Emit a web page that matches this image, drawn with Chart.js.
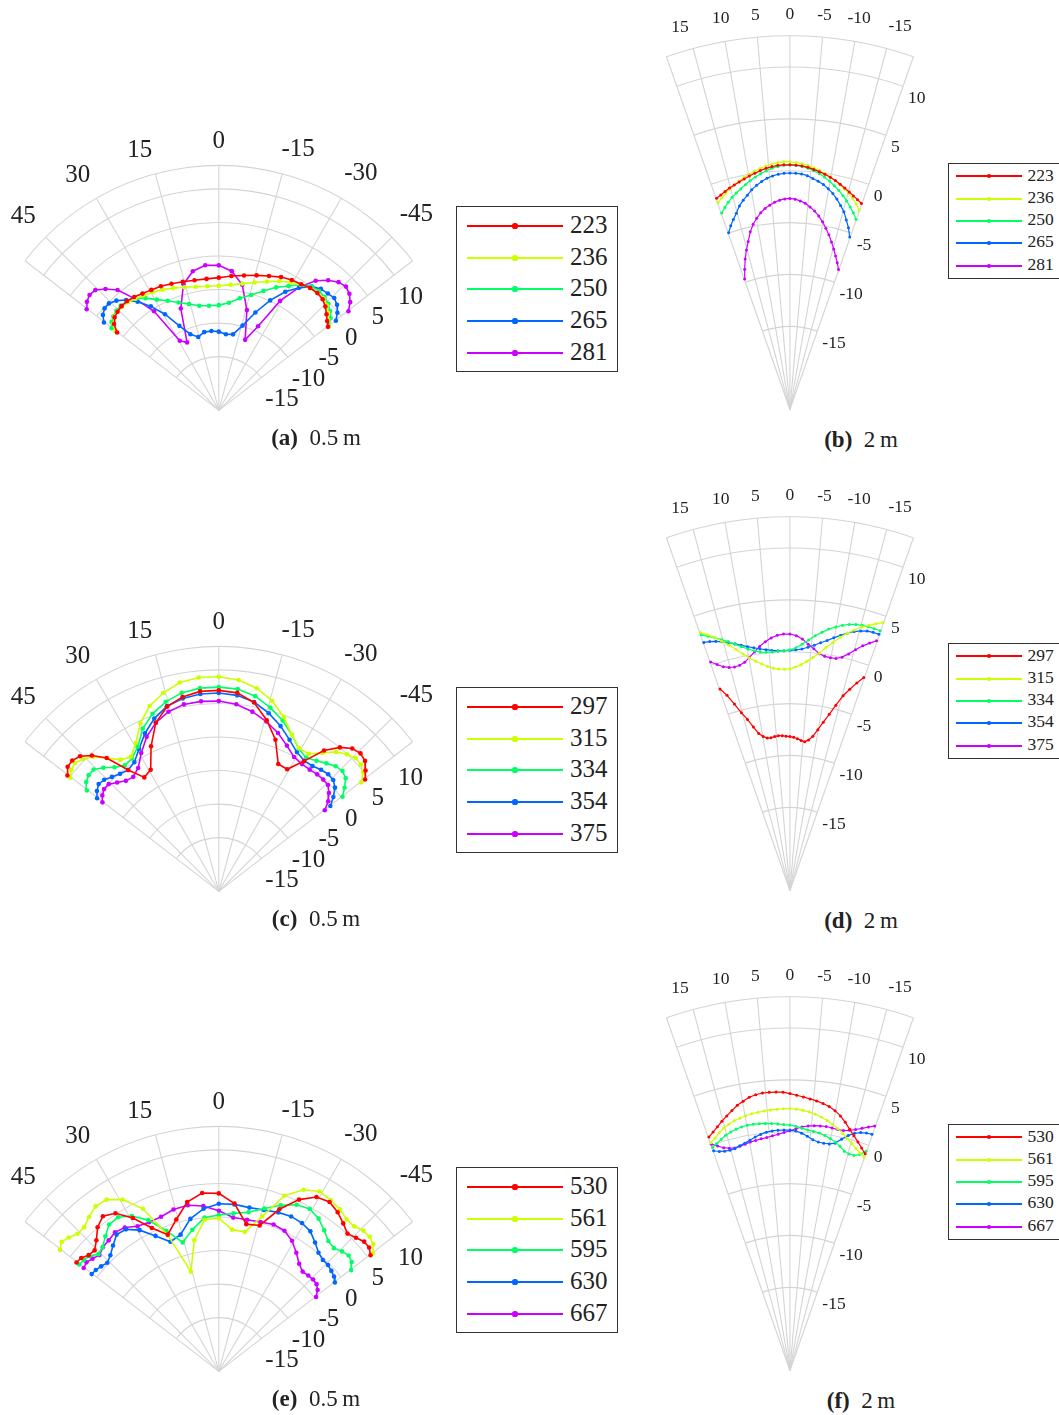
<!DOCTYPE html>
<html>
<head>
<meta charset="utf-8">
<script src="https://cdn.jsdelivr.net/npm/chart.js@4.4.1/dist/chart.umd.min.js"></script>
<style>
  body { margin: 0; background: #fff; width: 1059px; height: 1415px; position: relative; overflow: hidden;
         font-family: "Liberation Serif", "DejaVu Serif", serif; color: #222; }
  canvas { position: absolute; }
  .legend { position: absolute; border: 1px solid #333; background: #fff; box-sizing: border-box; }
  .legend .ln { position: absolute; }
  .legend .dot { position: absolute; border-radius: 50%; }
  .legend .lab { position: absolute; white-space: nowrap; }
  .cap { position: absolute; transform: translate(-50%, -50%); font-size: 23px; white-space: nowrap; }
</style>
</head>
<body>
<script>
// colours of the five series in every panel
const colors = ['#ff0000', '#ccff00', '#00ff66', '#0066ff', '#cc00ff'];

// radial axis (dB), centre of the fan is rMin
const rMin = -23;
const radialTicks = [-15, -10, -5, 0, 5, 10];

// measurement angles (deg), positive = left
const anglesNear = [52.35, 50.28, 48.01, 45.52, 42.80, 39.81, 36.53, 32.95, 29.05, 24.84, 20.32, 15.52, 10.49, 5.29, 0,
  -5.29, -10.49, -15.52, -20.32, -24.84, -29.05, -32.95, -36.53, -39.81, -42.80, -45.52, -48.01, -50.28, -52.35];
const anglesFar = [19.29, 18.00, 16.70, 15.38, 14.04, 12.68, 11.31, 9.93, 8.53, 7.13, 5.71, 4.29, 2.86, 1.43, 0,
  -1.43, -2.86, -4.29, -5.71, -7.13, -8.53, -9.93, -11.31, -12.68, -14.04, -15.38, -16.70, -18.00, -19.29];
const angleTicksNear = [45, 30, 15, 0, -15, -30, -45];
const angleTicksFar = [15, 10, 5, 0, -5, -10, -15];

// (a) 0.5 m
const labelsA = ['223', '236', '250', '265', '281'];
const a223 = [-3.85, -2.7, -2.1, -1.84, -1.65, -1.62, -1.8, -2.08, -2.28, -2.43, -2.7, -2.93, -3.1, -3.15, -3.05, -2.72, -2.37, -1.93, -1.47, -0.92, -0.58, -0.4, -0.12, -0.05, -0.22, -0.74, -1.4, -2.0, -2.45];
const a236 = [-3.5, -2.6, -2.0, -1.8, -1.75, -1.85, -2.1, -2.4, -2.7, -3.0, -3.4, -3.8, -4.1, -4.25, -4.27, -4.05, -3.62, -3.05, -2.34, -1.6, -0.95, -0.45, -0.15, 0.0, -0.05, -0.45, -1.1, -1.8, -2.35];
const a250 = [-2.8, -2.2, -1.85, -1.6, -1.5, -1.65, -2.1, -2.9, -3.95, -4.85, -5.7, -6.4, -7.0, -7.2, -7.18, -6.75, -5.85, -5.0, -3.85, -2.62, -1.6, -0.5, 0.2, 0.35, 0.2, -0.15, -0.7, -1.35, -2.3];
const a265 = [-1.37, -0.54, -0.09, -0.05, -0.52, -1.41, -2.66, -4.37, -6.47, -9.0, -10.8, -11.55, -11.04, -11.03, -11.17, -11.51, -11.38, -9.78, -7.31, -4.78, -2.59, -1.05, 0.19, 0.77, 0.93, 1.12, 0.71, -0.02, -0.96];
const a281 = [1.88, 2.56, 2.92, 2.81, 1.86, 0.56, -2.18, -5.25, -11.02, -11.74, -6.68, -3.32, -1.72, -1.1, -1.2, -1.98, -3.79, -7.36, -11.7, -9.06, -4.18, -0.92, 1.26, 2.46, 3.27, 3.56, 3.19, 2.46, 1.4];

// (b) 2 m
const labelsB = ['223', '236', '250', '265', '281'];
const b223 = [-1.62, -1.45, -1.25, -1.05, -0.9, -0.72, -0.55, -0.35, -0.18, 0.0, 0.15, 0.27, 0.35, 0.38, 0.38, 0.35, 0.3, 0.2, 0.05, -0.1, -0.28, -0.47, -0.69, -0.95, -1.2, -1.45, -1.7, -1.92, -2.15];
const b236 = [-2.03, -1.75, -1.45, -1.15, -0.9, -0.65, -0.4, -0.18, 0.02, 0.2, 0.38, 0.52, 0.62, 0.68, 0.66, 0.6, 0.5, 0.37, 0.2, 0.0, -0.22, -0.45, -0.72, -1.0, -1.3, -1.6, -1.95, -2.35, -2.81];
const b250 = [-3.11, -2.72, -2.32, -1.98, -1.68, -1.4, -1.1, -0.82, -0.55, -0.3, -0.08, 0.12, 0.25, 0.33, 0.35, 0.33, 0.25, 0.12, -0.05, -0.28, -0.55, -0.85, -1.2, -1.55, -1.95, -2.35, -2.8, -3.25, -3.74];
const b265 = [-5.12, -4.55, -4.05, -3.55, -2.95, -2.5, -2.12, -1.68, -1.35, -1.05, -0.8, -0.62, -0.5, -0.43, -0.41, -0.43, -0.47, -0.6, -0.82, -1.02, -1.26, -1.6, -1.95, -2.4, -2.9, -3.4, -4.1, -4.75, -5.55];
const b281 = [-9.8, -8.9, -8.0, -7.2, -6.45, -5.6, -4.95, -4.45, -4.0, -3.65, -3.38, -3.15, -2.98, -2.88, -2.84, -2.9, -3.05, -3.25, -3.55, -3.9, -4.3, -4.8, -5.35, -5.9, -6.5, -7.1, -7.7, -8.25, -8.83];

// (c) 0.5 m
const labelsC = ['297', '315', '334', '354', '375'];
const c297 = [5.5, 6.3, 6.4, 6.0, 4.85, 3.1, -0.3, -2.58, -2.09, 1.04, 4.04, 5.83, 6.73, 7.2, 7.22, 6.97, 5.87, 3.71, 1.31, -1.9, -2.01, 0.34, 3.35, 5.18, 6.27, 6.6, 6.32, 5.44, 4.53];
const c315 = [4.95, 5.6, 5.85, 5.4, 4.6, 3.1, 1.6, 1.1, 2.5, 4.84, 6.72, 7.95, 8.93, 9.3, 9.26, 8.91, 8.07, 6.72, 4.93, 2.93, 1.63, 1.63, 2.9, 4.3, 5.1, 5.6, 5.5, 5.0, 3.8];
const c334 = [1.84, 2.7, 3.12, 3.15, 2.34, 1.29, 0.57, 0.81, 1.87, 3.97, 5.47, 6.58, 7.35, 7.69, 7.71, 7.54, 6.85, 5.68, 4.39, 2.93, 1.54, 0.94, 1.45, 2.05, 2.65, 2.84, 2.44, 1.37, 0.29];
const c354 = [-0.08, 0.62, 1.1, 0.95, 0.45, 0.0, -0.3, 0.15, 1.5, 3.2, 4.7, 5.9, 6.5, 6.8, 6.83, 6.6, 5.95, 4.8, 3.5, 2.1, 0.95, 0.4, 0.45, 0.8, 1.0, 0.9, 0.3, -0.8, -2.0];
const c375 = [-1.09, -0.43, 0.0, 0.0, -0.69, -1.37, -1.58, -0.9, 0.8, 2.6, 4.04, 5.04, 5.59, 5.69, 5.61, 5.25, 4.48, 3.5, 2.4, 1.15, 0.1, -0.2, -0.23, -0.1, -0.1, -0.19, -0.91, -1.8, -3.05];

// (d) 2 m
const labelsD = ['297', '315', '334', '354', '375'];
const d297 = [-2.61, -3.4, -4.4, -5.4, -6.15, -7.0, -7.7, -8.06, -8.28, -8.3, -8.22, -8.17, -8.2, -8.25, -8.3, -8.36, -8.48, -8.62, -8.73, -8.5, -8.1, -7.4, -6.6, -5.75, -4.75, -3.7, -2.93, -2.15, -1.45];
const d315 = [3.1, 2.7, 2.2, 1.7, 1.15, 0.6, 0.05, -0.45, -0.85, -1.2, -1.5, -1.7, -1.82, -1.86, -1.83, -1.65, -1.4, -1.05, -0.6, -0.15, 0.5, 1.05, 1.67, 2.2, 2.65, 3.1, 3.45, 3.8, 4.12];
const d334 = [2.88, 2.55, 2.2, 1.85, 1.51, 1.1, 0.75, 0.42, 0.15, -0.05, -0.13, -0.15, -0.12, -0.08, -0.02, 0.2, 0.55, 1.0, 1.45, 1.85, 2.25, 2.55, 2.83, 3.05, 3.2, 3.27, 3.3, 3.3, 3.29];
const d354 = [2.11, 2.0, 1.85, 1.64, 1.42, 1.15, 0.88, 0.65, 0.45, 0.25, 0.12, 0.0, -0.07, -0.08, -0.06, 0.0, 0.1, 0.3, 0.55, 0.85, 1.15, 1.5, 1.85, 2.2, 2.5, 2.72, 2.87, 2.93, 2.94];
const d375 = [0.12, -0.3, -0.68, -0.9, -0.99, -0.95, -0.77, -0.4, 0.05, 0.5, 0.88, 1.2, 1.41, 1.5, 1.5, 1.35, 1.05, 0.6, 0.2, -0.2, -0.38, -0.42, -0.4, -0.15, 0.3, 0.85, 1.4, 1.85, 2.27];

// (e) 0.5 m
const labelsE = ['530', '561', '595', '630', '667'];
const e530 = [3.79, 3.66, 3.11, 2.95, 3.86, 5.22, 6.03, 5.32, 3.38, 0.75, -1.08, 0.7, 2.89, 3.93, 3.76, 2.35, -0.49, -0.23, 2.99, 5.46, 6.98, 7.35, 6.77, 5.96, 5.23, 5.66, 6.15, 6.13, 5.56];
const e561 = [6.91, 7.46, 7.08, 6.52, 6.54, 7.22, 7.87, 7.77, 6.56, 3.93, -1.2, -7.45, -2.94, -0.1, 0.02, -1.6, -1.67, 1.17, 5.16, 7.09, 7.93, 7.68, 7.31, 6.74, 6.72, 7.21, 7.26, 6.93, 6.01];
const e595 = [3.29, 3.17, 2.9, 2.15, 2.48, 3.42, 4.47, 4.6, 3.71, 2.06, -0.45, -2.88, -1.34, 0.22, 0.5, 0.85, 1.32, 2.41, 3.62, 4.61, 4.93, 4.36, 3.39, 2.5, 2.25, 2.74, 3.04, 2.74, 1.92];
const e630 = [0.94, 0.84, 0.6, 0.29, 0.79, 1.63, 2.59, 2.44, 1.29, -0.56, -2.22, -1.67, 0.31, 1.57, 2.21, 2.21, 2.04, 2.17, 2.49, 2.67, 2.51, 2.09, 1.11, 0.21, -0.17, -0.19, -0.43, -0.67, -1.15];
const e667 = [2.44, 2.65, 2.33, 1.95, 2.43, 2.64, 3.0, 2.77, 1.96, 1.71, 1.8, 2.25, 2.39, 1.97, 1.14, 0.22, 0.19, 0.31, 0.54, 0.3, -0.54, -1.75, -2.88, -3.48, -3.37, -3.3, -3.4, -3.85, -4.69];

// (f) 2 m
const labelsF = ['530', '561', '595', '630', '667'];
const f530 = [0.63, 0.95, 1.3, 1.7, 2.07, 2.45, 2.84, 3.12, 3.4, 3.55, 3.64, 3.65, 3.63, 3.6, 3.45, 3.3, 3.16, 3.02, 2.88, 2.7, 2.5, 2.2, 1.8, 1.3, 0.75, 0.25, -0.2, -0.65, -1.07];
const f561 = [0.06, 0.35, 0.7, 1.02, 1.25, 1.45, 1.58, 1.7, 1.8, 1.86, 1.92, 1.96, 1.98, 2.01, 2.03, 1.97, 1.88, 1.78, 1.6, 1.4, 1.15, 0.85, 0.55, 0.2, -0.17, -0.52, -0.88, -1.15, -1.38];
const f595 = [-0.43, -0.2, 0.05, 0.3, 0.48, 0.62, 0.73, 0.78, 0.78, 0.76, 0.72, 0.65, 0.58, 0.5, 0.44, 0.33, 0.18, 0.05, -0.05, -0.13, -0.3, -0.5, -0.75, -1.05, -1.4, -1.55, -1.55, -1.31, -0.81];
const f630 = [-0.76, -1.0, -1.13, -1.17, -1.16, -1.0, -0.85, -0.66, -0.45, -0.27, -0.12, -0.05, -0.02, -0.02, -0.03, -0.12, -0.3, -0.55, -0.85, -1.0, -1.05, -1.03, -0.85, -0.35, 0.15, 0.5, 0.73, 0.85, 0.91];
const f667 = [-0.09, -0.45, -0.78, -0.98, -1.08, -1.05, -0.95, -0.85, -0.78, -0.7, -0.63, -0.52, -0.4, -0.26, -0.1, 0.1, 0.3, 0.42, 0.5, 0.55, 0.57, 0.52, 0.47, 0.5, 0.65, 0.88, 1.15, 1.45, 1.75];

// panel look: near = 0.5 m panels (left), far = 2 m panels (right)
const nearStyle = {
  rMax: 13.5, unit: 6.83, canvas: { x: 0, w: 450, up: 290, down: 12 },
  font: 25, angleGap: 17, labelTurn: { 15: 1.8, 30: 0.8 }, radDx: 4, radDy: 20.5, line: 1.6, dot: 2.3,
  legend: { x: 456, dy: -208.3, w: 162, h: 166, row0: 19, step: 31.7, l0: 10, l1: 106, d: 58, t: 113, font: 25, line: 2, dot: 2.6 },
  cap: { x: 316, dy: 24 }
};
const farStyle = {
  rMax: 13, unit: 10.67, canvas: { x: 650, w: 296, up: 413.3, down: 12 },
  font: 17.5, angleGap: 17, labelTurn: { 15: 1.0 }, radDx: 5, radDy: 11.5, line: 1.2, dot: 1.5,
  legend: { x: 948.3, dy: -250.6, w: 114, h: 115.6, row0: 12.3, step: 22.3, l0: 6.7, l1: 72.7, d: 40, t: 78.4, font: 17.5, line: 2, dot: 1.8 },
  cap: { x: 861, dy: 27 }
};

const panels = [
  { tag: 'a', dist: '0.5', cx: 218.7, cy: 414.3, st: nearStyle, angles: anglesNear, ticks: angleTicksNear, labels: labelsA, series: [a223, a236, a250, a265, a281] },
  { tag: 'b', dist: '2', cx: 789.7, cy: 413.3, st: farStyle, angles: anglesFar, ticks: angleTicksFar, labels: labelsB, series: [b223, b236, b250, b265, b281] },
  { tag: 'c', dist: '0.5', cx: 218.7, cy: 894.8, st: nearStyle, angles: anglesNear, ticks: angleTicksNear, labels: labelsC, series: [c297, c315, c334, c354, c375] },
  { tag: 'd', dist: '2', cx: 789.7, cy: 893.8, st: farStyle, angles: anglesFar, ticks: angleTicksFar, labels: labelsD, series: [d297, d315, d334, d354, d375] },
  { tag: 'e', dist: '0.5', cx: 218.7, cy: 1375.3, st: nearStyle, angles: anglesNear, ticks: angleTicksNear, labels: labelsE, series: [e530, e561, e595, e630, e667] },
  { tag: 'f', dist: '2', cx: 789.7, cy: 1374.3, st: farStyle, angles: anglesFar, ticks: angleTicksFar, labels: labelsF, series: [f530, f561, f595, f630, f667] }
];

const DEG = Math.PI / 180;

// (angle, dB) -> cartesian, in dB units measured from the fan centre
function toXY(theta, v) {
  const r = v - rMin;
  return { x: -r * Math.sin(theta * DEG), y: r * Math.cos(theta * DEG) };
}

function fanPlugin(p) {
  const st = p.st;
  const edge = Math.max(...p.angles);
  return {
    id: 'fan',
    beforeDatasetsDraw(chart) {
      const { ctx, scales: { x, y } } = chart;
      const ox = x.getPixelForValue(0), oy = y.getPixelForValue(0);
      const u = x.getPixelForValue(1) - ox;
      const rOut = (st.rMax - rMin) * u;
      ctx.save();
      ctx.strokeStyle = '#d4d4d4';
      ctx.lineWidth = 1.1;
      radialTicks.concat([st.rMax]).forEach(v => {
        ctx.beginPath();
        ctx.arc(ox, oy, (v - rMin) * u, -Math.PI / 2 - edge * DEG, -Math.PI / 2 + edge * DEG);
        ctx.stroke();
      });
      p.ticks.concat([edge, -edge]).forEach(a => {
        ctx.beginPath();
        ctx.moveTo(ox, oy);
        ctx.lineTo(ox - rOut * Math.sin(a * DEG), oy - rOut * Math.cos(a * DEG));
        ctx.stroke();
      });
      ctx.restore();
    },
    afterDraw(chart) {
      const { ctx, scales: { x, y } } = chart;
      const ox = x.getPixelForValue(0), oy = y.getPixelForValue(0);
      const u = x.getPixelForValue(1) - ox;
      const rOut = (st.rMax - rMin) * u;
      const digitH = st.font * 0.66;
      ctx.save();
      ctx.fillStyle = '#222';
      ctx.font = st.font + 'px "Liberation Serif", "DejaVu Serif", serif';
      ctx.textAlign = 'center';
      p.ticks.forEach(a => {
        const s = String(a);
        const w = ctx.measureText(s).width;
        const turn = (st.labelTurn[Math.abs(a)] || 0) * Math.sign(a);
        const t = (a + turn) * DEG;
        const d = rOut + st.angleGap + w / 2 * Math.abs(Math.sin(t)) + digitH / 2 * Math.abs(Math.cos(t));
        ctx.fillText(s, ox - d * Math.sin(t), oy - d * Math.cos(t) + digitH / 2);
      });
      ctx.textAlign = 'left';
      radialTicks.forEach(v => {
        const r = (v - rMin) * u;
        const px = ox + r * Math.sin(edge * DEG), py = oy - r * Math.cos(edge * DEG);
        ctx.fillText(String(v), px + st.radDx, py + st.radDy + digitH / 2);
      });
      ctx.restore();
    }
  };
}

function buildPanel(p) {
  const st = p.st;
  const cv = document.createElement('canvas');
  const left = st.canvas.x, top = Math.max(0, p.cy - st.canvas.up);
  const w = st.canvas.w, h = Math.round(p.cy + st.canvas.down - top);
  cv.width = w; cv.height = h;
  cv.style.left = left + 'px'; cv.style.top = top + 'px';
  document.body.appendChild(cv);

  new Chart(cv.getContext('2d'), {
    type: 'scatter',
    data: {
      datasets: p.series.map((vals, i) => ({
        label: p.labels[i],
        data: vals.map((v, j) => toXY(p.angles[j], v)),
        showLine: true,
        borderColor: colors[i],
        backgroundColor: colors[i],
        borderWidth: st.line,
        pointRadius: st.dot,
        pointBorderWidth: 0,
        pointBackgroundColor: colors[i]
      }))
    },
    options: {
      responsive: false,
      animation: false,
      devicePixelRatio: 1,
      events: [],
      layout: { padding: 0 },
      scales: {
        x: { type: 'linear', display: false, min: (left - p.cx) / st.unit, max: (left + w - p.cx) / st.unit },
        y: { type: 'linear', display: false, min: (p.cy - (top + h)) / st.unit, max: (p.cy - top) / st.unit }
      },
      plugins: { legend: { display: false }, tooltip: { enabled: false } }
    },
    plugins: [fanPlugin(p)]
  });

  // boxed legend
  const L = st.legend;
  const box = document.createElement('div');
  box.className = 'legend';
  const boxTop = Math.round(p.cy + L.dy);
  Object.assign(box.style, { left: Math.round(L.x) + 'px', top: boxTop + 'px', width: L.w + 'px', height: Math.round(L.h) + 'px' });
  p.labels.forEach((lab, i) => {
    const yRow = L.row0 + i * L.step;
    const ln = document.createElement('div');
    ln.className = 'ln';
    Object.assign(ln.style, { left: Math.round(L.l0) + 'px', width: Math.round(L.l1 - L.l0) + 'px',
      top: Math.round(yRow - L.line / 2) + 'px', height: L.line + 'px', background: colors[i] });
    const dot = document.createElement('div');
    dot.className = 'dot';
    Object.assign(dot.style, { left: (L.d - L.dot) + 'px', top: (Math.round(yRow - L.line / 2) + L.line / 2 - L.dot) + 'px',
      width: 2 * L.dot + 'px', height: 2 * L.dot + 'px', background: colors[i] });
    const t = document.createElement('div');
    t.className = 'lab';
    t.textContent = lab;
    Object.assign(t.style, { left: L.t + 'px', top: (yRow - L.font * 0.56) + 'px', fontSize: L.font + 'px', lineHeight: L.font + 'px' });
    box.append(ln, dot, t);
  });
  document.body.appendChild(box);

  // caption
  const cap = document.createElement('div');
  cap.className = 'cap';
  cap.innerHTML = '<b>(' + p.tag + ')</b>&ensp;' + p.dist + '&thinsp;m';
  Object.assign(cap.style, { left: st.cap.x + 'px', top: (p.cy + st.cap.dy) + 'px' });
  document.body.appendChild(cap);
}

panels.forEach(buildPanel);
</script>
</body>
</html>
